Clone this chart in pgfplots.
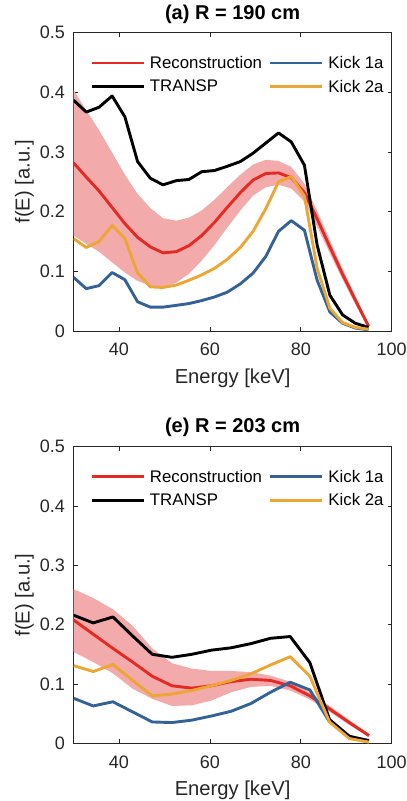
\documentclass[border=0pt]{standalone}
\usepackage{fontspec}
\setmainfont{Liberation Sans}
\usepackage{pgfplots}
\usepackage{pgfplotstable}
\pgfplotsset{compat=1.18}
\usepgfplotslibrary{fillbetween}
\definecolor{recred}{RGB}{228,42,36}
\definecolor{bandpink}{RGB}{242,170,170}
\definecolor{kickblue}{RGB}{52,98,150}
\definecolor{kickorange}{RGB}{236,166,52}
\definecolor{axgray}{RGB}{38,38,38}

\pgfplotstableread{
E     red   up    lo    blk   blu   org
30.0  0.282 0.404 0.160 0.387 0.090 0.155
32.8  0.258 0.370 0.146 0.367 0.071 0.140
35.6  0.235 0.337 0.133 0.375 0.076 0.150
38.5  0.207 0.299 0.115 0.394 0.098 0.177
41.3  0.180 0.262 0.098 0.359 0.086 0.155
44.1  0.157 0.230 0.084 0.284 0.049 0.097
46.9  0.141 0.206 0.076 0.256 0.040 0.074
49.7  0.131 0.189 0.073 0.245 0.040 0.073
52.6  0.133 0.185 0.081 0.252 0.043 0.077
55.4  0.143 0.190 0.096 0.254 0.046 0.085
58.2  0.160 0.202 0.118 0.267 0.051 0.094
61.0  0.182 0.220 0.144 0.269 0.057 0.105
63.8  0.207 0.241 0.173 0.276 0.065 0.120
66.7  0.232 0.262 0.202 0.284 0.079 0.140
69.5  0.253 0.279 0.227 0.298 0.097 0.167
72.3  0.264 0.287 0.241 0.315 0.125 0.205
75.1  0.265 0.285 0.245 0.332 0.167 0.250
77.9  0.257 0.275 0.239 0.317 0.185 0.259
80.8  0.232 0.247 0.217 0.278 0.169 0.226
83.6  0.188 0.201 0.175 0.144 0.085 0.105
86.4  0.141 0.152 0.130 0.060 0.032 0.038
89.2  0.095 0.104 0.086 0.027 0.013 0.014
92.0  0.052 0.059 0.045 0.013 0.005 0.006
94.9  0.008 0.013 0.003 0.006 0.002 0.003
}\dataA

\pgfplotstableread{
E     red   up    lo    blk   blu   org
30.00 0.208 0.260 0.154 0.216 0.076 0.131
34.33 0.184 0.245 0.137 0.203 0.063 0.121
38.67 0.160 0.226 0.118 0.213 0.070 0.133
43.00 0.137 0.198 0.092 0.181 0.053 0.106
47.33 0.113 0.160 0.075 0.150 0.036 0.080
51.67 0.097 0.135 0.063 0.145 0.035 0.083
56.00 0.093 0.126 0.064 0.150 0.039 0.089
60.33 0.097 0.122 0.072 0.157 0.046 0.097
64.67 0.104 0.122 0.086 0.161 0.054 0.106
69.00 0.108 0.120 0.095 0.168 0.067 0.117
73.33 0.106 0.114 0.097 0.177 0.086 0.132
77.67 0.097 0.104 0.089 0.180 0.103 0.146
82.00 0.080 0.086 0.074 0.136 0.090 0.113
86.33 0.058 0.063 0.053 0.040 0.036 0.036
90.67 0.035 0.039 0.031 0.012 0.011 0.008
95.00 0.013 0.016 0.010 0.004 0.005 0.002
}\dataE

\pgfplotsset{
  panel/.style={
    scale only axis, width=318.2pt,
    xmin=30, xmax=100, ymin=0, ymax=0.5,
    xtick={40,60,80,100}, ytick={0,0.1,0.2,0.3,0.4,0.5},
    tick align=inside, major tick length=4pt,
    axis line style={axgray, line width=0.6pt},
    every tick/.style={axgray, line width=0.6pt},
    /pgf/number format/assume math mode=true,
    /pgf/number format/fixed,
    tick label style={font=\fontsize{18}{21}\selectfont, text=axgray},
    xticklabel style={inner sep=0pt, anchor=north, yshift=-12pt},
    yticklabel style={inner sep=0pt, anchor=east, xshift=-8.5pt},
    xlabel={Energy [keV]}, ylabel={f(E) [a.u.]},
    label style={font=\fontsize{20.2}{23}\selectfont, text=axgray},
    xlabel style={at={(axis description cs:0.5,-0.1753)}, anchor=base},
    ylabel style={at={(axis description cs:-0.138,0.5)}, anchor=base},
    title style={font=\bfseries\fontsize{20}{23}\selectfont, anchor=base},
    legend columns=2,
    legend cell align=left,
    legend style={draw=none, fill=none, font=\fontsize{16.8}{19}\selectfont,
      at={(axis description cs:0.053,0.922)}, anchor=north west,
      inner sep=0pt, row sep=10pt, nodes={inner sep=0pt},
      /tikz/every odd column/.append style={column sep=4.5pt},
      /tikz/every even column/.append style={column sep=7pt}},
    legend image code/.code={\draw[##1, line width=2.9pt] (0pt,0pt) -- (52pt,0pt);},
    every axis plot/.append style={line width=2.9pt, line join=round},
  }
}

\begin{document}
\begin{tikzpicture}
% ---------- (a) ----------
\begin{axis}[panel, height=298.3pt, at={(73.5pt,-331pt)}, anchor=south west,
  title={(a) R = 190 cm}, title style={at={(axis description cs:0.5,1.0225)}}]
  \addplot[draw=none, name path=UA, forget plot] table[x=E, y=up] {\dataA};
  \addplot[draw=none, name path=LA, forget plot] table[x=E, y=lo] {\dataA};
  \addplot[bandpink, draw=none, forget plot] fill between[of=UA and LA];
  \addplot[recred] table[x=E, y=red] {\dataA};
  \addlegendentry{Reconstruction}
  \addplot[kickblue] table[x=E, y=blu] {\dataA};
  \addlegendentry{Kick 1a}
  \addplot[black] table[x=E, y=blk] {\dataA};
  \addlegendentry{TRANSP}
  \addplot[kickorange] table[x=E, y=org] {\dataA};
  \addlegendentry{Kick 2a}
\end{axis}
% ---------- (e) ----------
\begin{axis}[panel, height=296.6pt, at={(73.5pt,-743.3pt)}, anchor=south west,
  title={(e) R = 203 cm}, title style={at={(axis description cs:0.5,1.0283)}}]
  \addplot[draw=none, name path=UE, forget plot] table[x=E, y=up] {\dataE};
  \addplot[draw=none, name path=LE, forget plot] table[x=E, y=lo] {\dataE};
  \addplot[bandpink, draw=none, forget plot] fill between[of=UE and LE];
  \addplot[recred] table[x=E, y=red] {\dataE};
  \addlegendentry{Reconstruction}
  \addplot[kickblue] table[x=E, y=blu] {\dataE};
  \addlegendentry{Kick 1a}
  \addplot[black] table[x=E, y=blk] {\dataE};
  \addlegendentry{TRANSP}
  \addplot[kickorange] table[x=E, y=org] {\dataE};
  \addlegendentry{Kick 2a}
\end{axis}
\pgfresetboundingbox
\path[use as bounding box] (0,0) rectangle (407pt,-801pt);
\end{tikzpicture}
\end{document}
